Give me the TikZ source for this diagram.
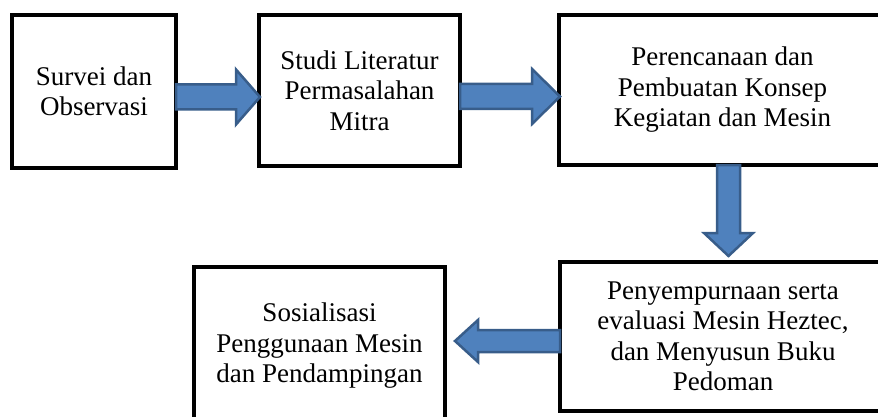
\documentclass[tikz,border=0pt]{standalone}
\usepackage{fontspec}
\setmainfont{Liberation Serif}
\usepackage{tikz}
\usetikzlibrary{calc}
\definecolor{arrowfill}{RGB}{79,129,189}
\definecolor{arrowline}{RGB}{56,93,138}
% block arrow: start, tip, shaft half width, head half width, head length
\newcommand{\blockarrow}[5]{%
  \coordinate (ba) at ($(#2)!#5!(#1)$);
  \draw[blockarrow] ($(#1)!#3!90:(#2)$) -- ($(ba)!#3!90:(#2)$) -- ($(ba)!#4!90:(#2)$)
    -- (#2) -- ($(ba)!#4!-90:(#2)$) -- ($(ba)!#3!-90:(#2)$) -- ($(#1)!#3!-90:(#2)$) -- cycle;}

\begin{document}
\begin{tikzpicture}[x=1pt,y=-1pt,
    stepbox/.style={draw,line width=4pt,inner sep=0pt,outer sep=0pt,align=center,
      font=\fontsize{27}{30.5}\selectfont},
    blockarrow/.style={fill=arrowfill,draw=arrowline,line width=2.5pt,line join=miter}]
    \clip (0,0) rectangle (878,417);
    % Boxes
    \node[stepbox,minimum width=164pt,minimum height=153pt] (survei) at (94,91.5)
      {Survei dan\\Observasi};
    \node[stepbox,minimum width=201pt,minimum height=151pt] (studi) at (359.5,90.5)
      {Studi Literatur\\Permasalahan\\Mitra};
    \node[stepbox,minimum width=327pt,minimum height=150pt] (rencana) at (722.5,90)
      {Perencanaan dan\\Pembuatan Konsep\\Kegiatan dan Mesin};
    \node[stepbox,minimum width=326pt,minimum height=149pt] (sempurna) at (723,336.5)
      {Penyempurnaan serta\\evaluasi Mesin Heztec,\\dan Menyusun Buku\\Pedoman};
    \node[stepbox,minimum width=251pt,minimum height=158pt] (sosialisasi) at (319.5,346)
      {Sosialisasi\\Penggunaan Mesin\\dan Pendampingan};
    % Arrows
    \blockarrow{$(survei.east)+(0,5.5)$}{$(studi.west)+(1,6.5)$}{12.5pt}{27.5pt}{24pt}
    \blockarrow{$(studi.east)+(0,6)$}{$(rencana.west)+(1,6.5)$}{12.5pt}{27.5pt}{28pt}
    \blockarrow{$(rencana.south)+(6,0)$}{$(sempurna.north)+(5.5,-6)$}{11.5pt}{24.5pt}{23pt}
    \blockarrow{$(sempurna.west)+(0,4.5)$}{$(sosialisasi.east)+(10,-5)$}{11pt}{21pt}{23pt}
\end{tikzpicture}
\end{document}
